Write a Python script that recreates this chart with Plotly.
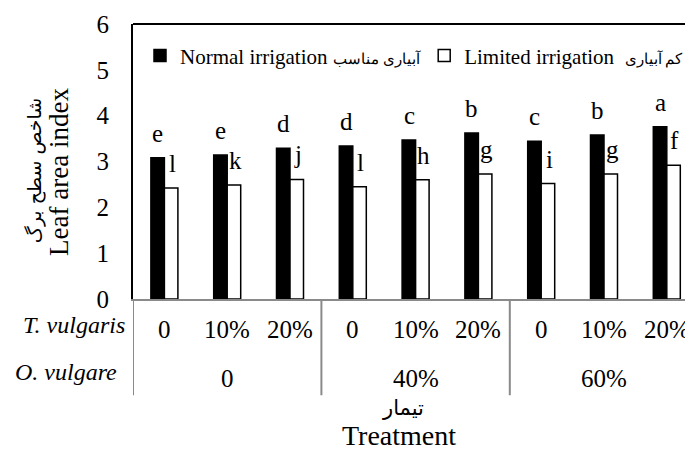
import plotly.graph_objects as go

# ---- data ----
thyme_levels = ["0", "10%", "20%", "0", "10%", "20%", "0", "10%", "20%"]
oregano_levels = ["0", "40%", "60%"]
normal_irrigation = [3.08, 3.14, 3.29, 3.34, 3.47, 3.62, 3.44, 3.58, 3.76]
limited_irrigation = [2.42, 2.49, 2.61, 2.45, 2.60, 2.73, 2.52, 2.73, 2.92]
normal_letters = ["e", "e", "d", "d", "c", "b", "c", "b", "a"]
limited_letters = ["l", "k", "j", "l", "h", "g", "i", "g", "f"]
y_ticks = [0, 1, 2, 3, 4, 5, 6]

SERIF = "Liberation Serif, Times New Roman, serif"
FA = "DejaVu Sans, Noto Sans, sans-serif"

xs = list(range(len(thyme_levels)))

fig = go.Figure()
fig.add_trace(go.Bar(
    x=xs, y=normal_irrigation, legend="legend",
    name='Normal irrigation <span style="font-size:15px">آبیاری مناسب</span>',
    marker=dict(color="black", line=dict(color="black", width=1.5)),
))
fig.add_trace(go.Bar(
    x=xs, y=limited_irrigation, legend="legend2",
    name='Limited irrigation  <span style="font-size:15px">کم آبیاری</span>',
    marker=dict(color="white", line=dict(color="black", width=1.5)),
))

annotations = []
# significance letters
for i, (v, t) in enumerate(zip(normal_irrigation, normal_letters)):
    annotations.append(dict(x=i, y=v, xref="x", yref="y", text=t, showarrow=False,
                            xshift=-6.5, yshift=9, xanchor="center", yanchor="bottom",
                            font=dict(family=SERIF, size=25, color="black")))
for i, (v, t) in enumerate(zip(limited_irrigation, limited_letters)):
    annotations.append(dict(x=i, y=v, xref="x", yref="y", text=t, showarrow=False,
                            xshift=8, yshift=9, xanchor="center", yanchor="bottom",
                            font=dict(family=SERIF, size=25, color="black")))

# category table under the axis
row1_y = -0.112
row2_y = -0.29
for i, lab in enumerate(thyme_levels):
    annotations.append(dict(x=i, y=row1_y, xref="x", yref="paper", text=lab, showarrow=False,
                            xanchor="center", yanchor="middle",
                            font=dict(family=SERIF, size=25, color="black")))
for g, lab in enumerate(oregano_levels):
    annotations.append(dict(x=g * 3 + 1, y=row2_y, xref="x", yref="paper", text=lab, showarrow=False,
                            xanchor="center", yanchor="middle",
                            font=dict(family=SERIF, size=25, color="black")))
annotations.append(dict(x=0, y=row1_y, xref="paper", yref="paper", text="<i>T. vulgaris</i>",
                        showarrow=False, xanchor="right", yanchor="middle", xshift=-6, yshift=5,
                        font=dict(family=SERIF, size=24, color="black")))
annotations.append(dict(x=0, y=row2_y, xref="paper", yref="paper", text="<i>O. vulgare</i>",
                        showarrow=False, xanchor="right", yanchor="middle", xshift=-14, yshift=7,
                        font=dict(family=SERIF, size=24, color="black")))

# axis titles
annotations.append(dict(x=0, y=-0.395, xref="paper", yref="paper", text="تیمار",
                        showarrow=False, xshift=270, xanchor="center", yanchor="middle",
                        font=dict(family=FA, size=21, color="black")))
annotations.append(dict(x=0, y=-0.495, xref="paper", yref="paper", text="Treatment",
                        showarrow=False, xshift=266, xanchor="center", yanchor="middle",
                        font=dict(family=SERIF, size=28, color="black")))
annotations.append(dict(x=0, y=0.465, xref="paper", yref="paper", text="شاخص سطح برگ",
                        showarrow=False, xshift=-99, textangle=-90, xanchor="center", yanchor="middle",
                        font=dict(family=FA, size=19, color="black")))
annotations.append(dict(x=0, y=0.462, xref="paper", yref="paper", text="Leaf area index",
                        showarrow=False, xshift=-74, textangle=-90, xanchor="center", yanchor="middle",
                        font=dict(family=SERIF, size=27, color="black")))

shapes = [
    dict(type="line", xref="paper", yref="paper", x0=0, x1=1, y0=1, y1=1,
         line=dict(color="black", width=2)),
]
for xb in [-0.5, 2.5, 5.5]:
    shapes.append(dict(type="line", xref="x", yref="paper", x0=xb, x1=xb, y0=0, y1=-0.35,
                       line=dict(color="#8a8a8a", width=2)))

cat_px = 62.8
plot_w = 560
legend_font = dict(family=SERIF, size=21, color="black")
fig.update_layout(
    width=685, height=447,
    margin=dict(l=125, r=0, t=16, b=156, autoexpand=False),
    paper_bgcolor="white", plot_bgcolor="white",
    barmode="group", bargap=0.57, bargroupgap=0,
    font=dict(family=SERIF, size=25, color="black"),
    showlegend=True,
    legend=dict(orientation="h", x=0.0125, xanchor="left", y=0.884, yanchor="middle",
                font=legend_font, bgcolor="rgba(0,0,0,0)"),
    legend2=dict(orientation="h", x=0.52, xanchor="left", y=0.884, yanchor="middle",
                 font=legend_font, bgcolor="rgba(0,0,0,0)"),
    xaxis=dict(range=[-0.5, -0.5 + plot_w / cat_px], showticklabels=False, ticks="",
               showgrid=False, zeroline=False, showline=True, linecolor="#8a8a8a", linewidth=2),
    yaxis=dict(range=[0, 6], tickvals=y_ticks, ticks="", showgrid=False, zeroline=False,
               showline=True, linecolor="black", linewidth=2, ticklabelstandoff=17,
               tickfont=dict(family=SERIF, size=25, color="black")),
    annotations=annotations,
    shapes=shapes,
)
fig.write_html("out.html")
